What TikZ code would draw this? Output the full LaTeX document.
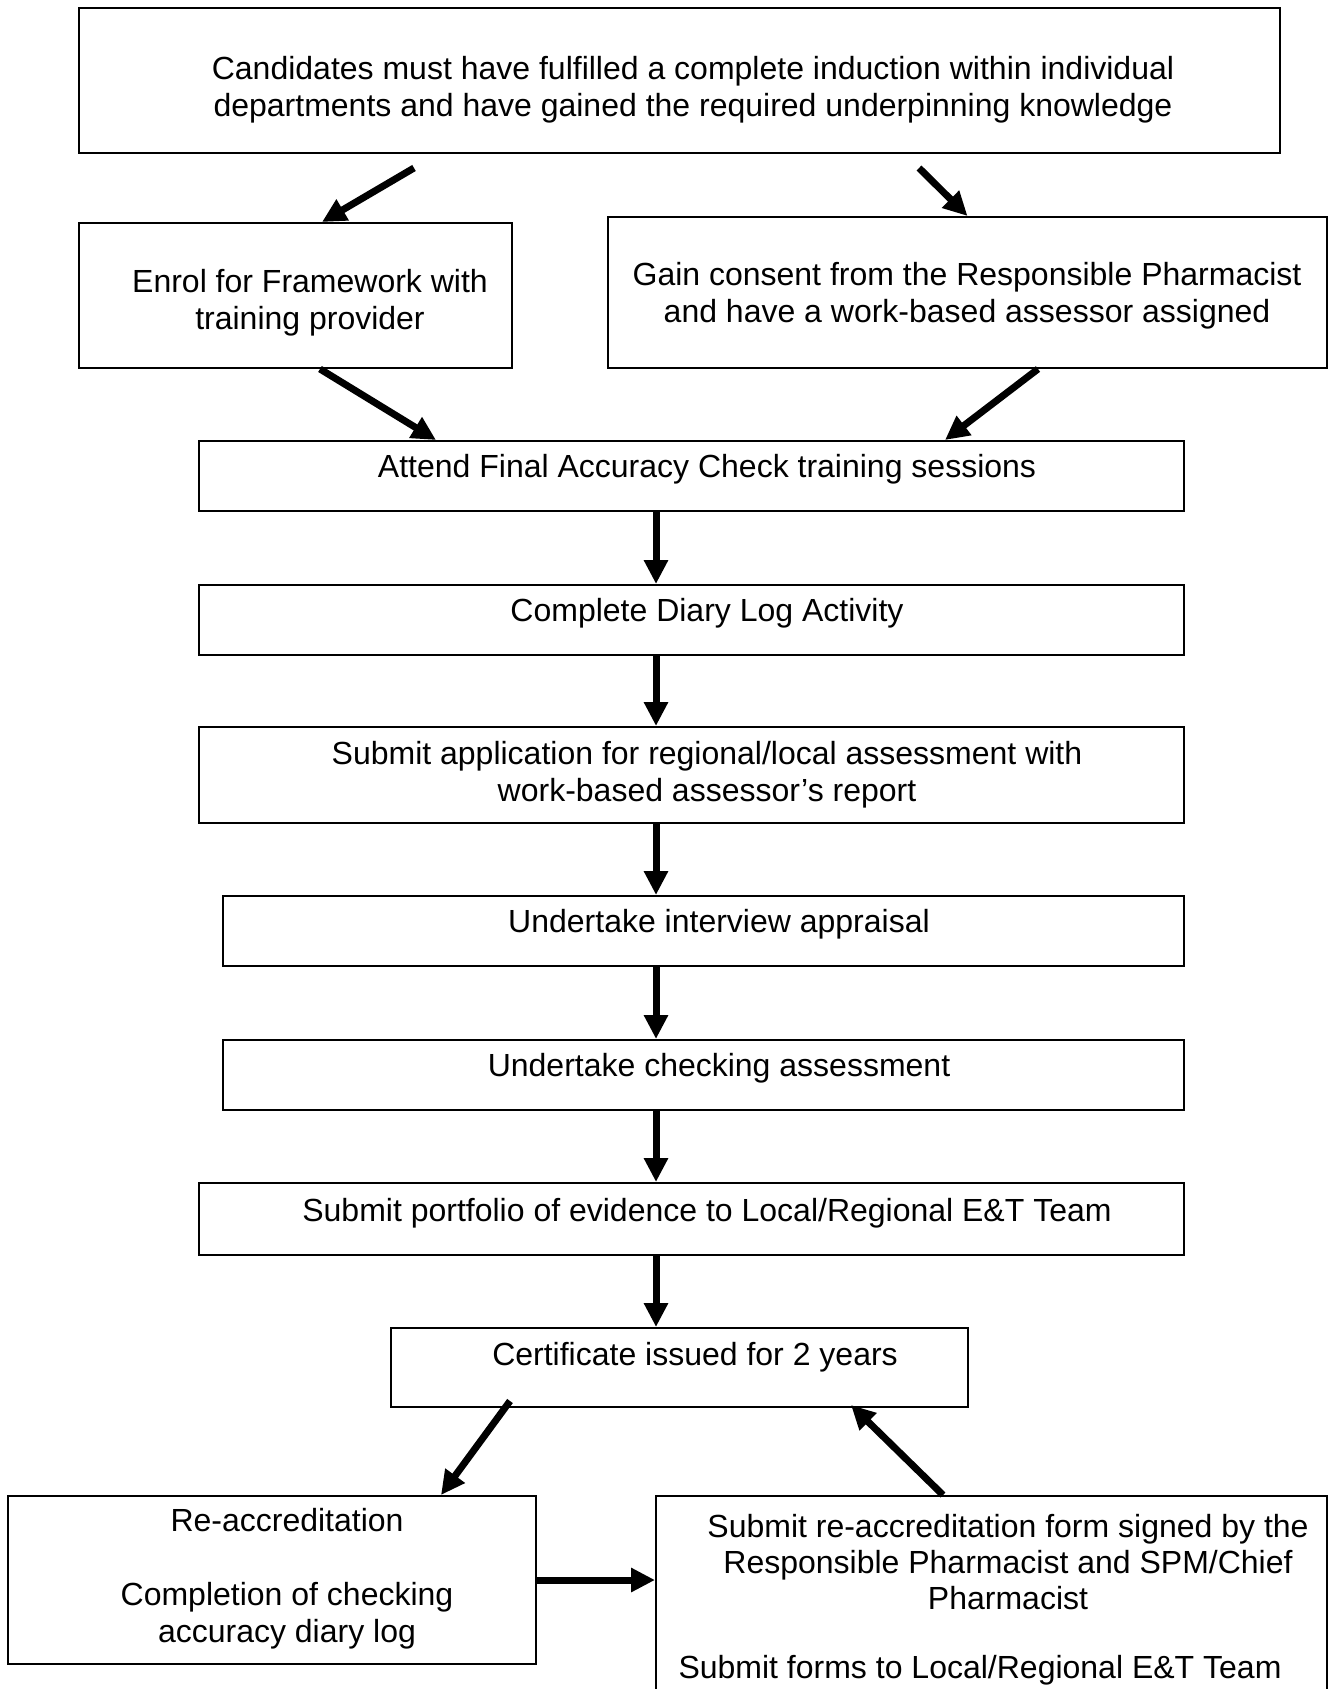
\documentclass[tikz,border=0pt]{standalone}
\usepackage{fontspec}
\setmainfont{Liberation Sans}
\usetikzlibrary{arrows.meta}

\tikzset{
  stepbox/.style={draw, line width=1pt, inner sep=0pt},
  steptext/.style={align=center, inner sep=0pt, font=\fontsize{16pt}{18.5pt}\selectfont},
  flow/.style={line width=3.5pt, -{Triangle[length=12pt,width=11.5pt]}}
}

\begin{document}
\begin{tikzpicture}[x=0.5pt,y=-0.5pt]
  \useasboundingbox (0,0) rectangle (1329,1689);
  \clip (0,0) rectangle (1329,1689);

  % boxes
  \node[stepbox, minimum width=600.5pt, minimum height=72.5pt] (top) at (679.5,80.5) {};
  \node[stepbox, minimum width=216.5pt, minimum height=72.5pt] (enrol) at (295.5,295.5) {};
  \node[stepbox, minimum width=359.5pt, minimum height=75.5pt] (gain) at (967.5,292.5) {};
  \node[stepbox, minimum width=492.5pt, minimum height=35pt] (attend) at (691.5,476) {};
  \node[stepbox, minimum width=492.5pt, minimum height=35pt] (diary) at (691.5,620) {};
  \node[stepbox, minimum width=492.5pt, minimum height=48pt] (apply) at (691.5,775) {};
  \node[stepbox, minimum width=480.5pt, minimum height=35pt] (interview) at (703.5,931) {};
  \node[stepbox, minimum width=480.5pt, minimum height=35pt] (checking) at (703.5,1075) {};
  \node[stepbox, minimum width=492.5pt, minimum height=36pt] (portfolio) at (691.5,1219) {};
  \node[stepbox, minimum width=288.5pt, minimum height=39.5pt] (cert) at (679.5,1367.5) {};
  \node[stepbox, minimum width=264pt, minimum height=84pt] (reacc) at (272,1580) {};
  \node[stepbox, minimum width=335.5pt, minimum height=132pt] (submitre) at (991.5,1628) {};

  % texts
  \node[steptext] (topt) at (693,90) {Candidates must have fulfilled a complete induction within individual\\departments and have gained the required underpinning knowledge};
  \node[steptext] (enrolt) at (310,303) {Enrol for Framework with\\training provider};
  \node[steptext] (gaint) at (967,296) {Gain consent from the Responsible Pharmacist\\and have a work-based assessor assigned};
  \node[steptext] (attendt) at (707,469) {Attend Final Accuracy Check training sessions};
  \node[steptext] (diaryt) at (707,613) {Complete Diary Log Activity};
  \node[steptext] (applyt) at (707,775) {Submit application for regional/local assessment with\\work-based assessor’s report};
  \node[steptext] (interviewt) at (719,924) {Undertake interview appraisal};
  \node[steptext] (checkingt) at (719,1068) {Undertake checking assessment};
  \node[steptext] (portfoliot) at (707,1213) {Submit portfolio of evidence to Local/Regional E\&T Team};
  \node[steptext] (certt) at (695,1357) {Certificate issued for 2 years};
  \node[steptext] (reacct) at (287,1579) {Re-accreditation\\[18.5pt]Completion of checking\\accuracy diary log};
  \node[steptext, font=\fontsize{16pt}{18pt}\selectfont] (submitret) at (1008,1562) {Submit re-accreditation form signed by the\\Responsible Pharmacist and SPM/Chief\\Pharmacist};
  \node[steptext] (formst) at (980,1670) {Submit forms to Local/Regional E\&T Team};

  % arrows
  \coordinate (ax) at (656,0);
  \draw[flow] ([shift={(-265.5,14)}]top.south) -- ([shift={(26.5,0)}]enrol.north);
  \draw[flow] ([shift={(239.5,14)}]top.south) -- (gain.north);
  \draw[flow] ([shift={(24.5,0)}]enrol.south) -- ([shift={(-255.5,0)}]attend.north);
  \draw[flow] ([shift={(70.5,0)}]gain.south) -- ([shift={(253.5,0)}]attend.north);
  \draw[flow] (attend.south -| ax) -- (diary.north -| ax);
  \draw[flow] (diary.south -| ax) -- (apply.north -| ax);
  \draw[flow] (apply.south -| ax) -- (interview.north -| ax);
  \draw[flow] (interview.south -| ax) -- (checking.north -| ax);
  \draw[flow] (checking.south -| ax) -- (portfolio.north -| ax);
  \draw[flow] (portfolio.south -| ax) -- (cert.north -| ax);
  \draw[flow] ([shift={(-169.5,-7)}]cert.south) -- ([shift={(169,0)}]reacc.north);
  \draw[flow] ([shift={(-48.5,0)}]submitre.north) -- ([shift={(171.5,-3)}]cert.south);
  \draw[flow] (reacc.east) -- (reacc.east -| submitre.west);
\end{tikzpicture}
\end{document}
